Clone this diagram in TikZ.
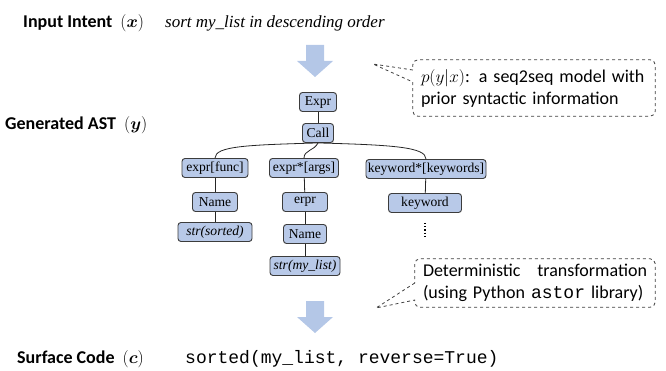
\documentclass[tikz,border=0pt]{standalone}
\usepackage{amsmath}
\usepackage{amssymb}
\usepackage{fontspec}
\setmainfont{Liberation Serif}
\setsansfont{Carlito}
\setmonofont{Liberation Mono}
\usepackage{xcolor}
\usepackage{tikz}

\definecolor{astfill}{RGB}{184,201,232}
\definecolor{astline}{RGB}{60,60,60}
\definecolor{flowblue}{RGB}{180,199,231}

\tikzset{
  astnode/.style={draw=astline, fill=astfill, rounded corners=3pt, line width=0.9pt,
    minimum height=19pt, inner sep=0pt, font=\fontsize{13.6}{13.6}\selectfont},
  astlink/.style={draw=black!85, line width=0.8pt},
  stage/.style={anchor=base west, inner sep=0pt, font=\sffamily\bfseries\fontsize{18}{18}\selectfont},
  note/.style={inner xsep=8pt, inner ysep=0pt, align=left, font=\sffamily\fontsize{18}{22}\selectfont},
  bubble/.style={draw=black!75, dashed, line width=0.8pt},
  flowarrow/.style={fill=flowblue}
}

\begin{document}
\begin{tikzpicture}[x=1pt, y=-1pt]
        \useasboundingbox (0,0) rectangle (666,371);

        % Input
        \node[stage] (intent) at (23,28) {Input Intent\hspace{0.45em}$(\boldsymbol{x})$};
        \node[anchor=base west, inner sep=0pt, font=\itshape\fontsize{17}{17}\selectfont] (query) at (165,28) {sort my\_list in descending order};

        % Model step
        \fill[flowarrow, shift={(315,45)}] (-9,0) -- (9,0) -- (9,16) -- (18,16) -- (0,32) -- (-18,16) -- (-9,16) -- cycle;
        \node[note, text width=226pt, minimum height=56pt] (model) at (534,88) {$p(y|x)$: a seq2seq model with\\prior syntactic information};
        \coordinate (modeltip) at (373,64);
        \draw[bubble] (model.west |- 0,70) -- (modeltip) -- (model.west |- 0,82) [rounded corners=5pt] |- (model.south east) |- (model.north west) -- (model.west |- 0,70);

        % AST
        \node[stage] (astlabel) at (5,130) {Generated AST\hspace{0.45em}$(\boldsymbol{y})$};
        \node[astnode, minimum width=37pt] (expr) at (318,102) {Expr};
        \node[astnode, minimum width=31pt] (call) at (318,133) {Call};
        \node[astnode, minimum width=66pt] (func) at (215,168) {expr[func]};
        \node[astnode, minimum width=69pt] (args) at (304,168) {expr*[args]};
        \node[astnode, minimum width=120pt] (keywords) at (426,169) {keyword*[keywords]};
        \node[astnode, minimum width=45pt] (funcname) at (215,202) {Name};
        \node[astnode, minimum width=74pt] (funcstr) at (215,232) {\textit{str(sorted)}};
        \node[astnode, minimum width=45pt] (erpr) at (305,202) {erpr};
        \node[astnode, minimum width=43pt] (argname) at (305,234) {Name};
        \node[astnode, minimum width=70pt] (argstr) at (305,266) {\textit{str(my\_list)}};
        \node[astnode, minimum width=73pt] (keyword) at (425,203) {keyword};
        \node[inner sep=0pt, minimum height=14pt, minimum width=2pt] (more) at (425,230) {};

        \draw[astlink] (expr) -- (call);
        \draw[astlink] (call.south) .. controls +(-70,2) and +(0,-12) .. (func.north);
        \draw[astlink] (call.south) .. controls +(-4,8) and +(0,-8) .. (args.north);
        \draw[astlink] (call.south) .. controls +(75,2) and +(0,-12) .. (keywords.north);
        \draw[astlink] (func) -- (funcname);
        \draw[astlink] (funcname) -- (funcstr);
        \draw[astlink] (args) -- (erpr);
        \draw[astlink] (erpr) -- (argname);
        \draw[astlink] (argname) -- (argstr);
        \draw[astlink] (keywords) -- (keyword);
        \draw[line width=1.3pt, dash pattern=on 1.3pt off 2pt] (more.north) -- (more.south);

        % Code generation
        \fill[flowarrow, shift={(315,301)}] (-9,0) -- (9,0) -- (9,16) -- (18,16) -- (0,32) -- (-18,16) -- (-9,16) -- cycle;
        \node[note, text width=224pt, minimum height=48pt] (transform) at (535,283) {\makebox[224pt][s]{Deterministic\hfill transformation}\\(using Python \texttt{astor} library)};
        \coordinate (transformtip) at (376,308);
        \draw[bubble] (transform.west |- 0,283) -- (transformtip) -- (transform.west |- 0,300) [rounded corners=5pt] |- (transform.south east) |- (transform.north west) -- (transform.west |- 0,283);

        % Output
        \node[stage] (codelabel) at (17,363) {Surface Code\hspace{0.45em}$(\boldsymbol{c})$};
        \node[anchor=base west, inner sep=0pt, font=\ttfamily\fontsize{18}{18}\selectfont] (code) at (185,363) {sorted(my\_list, reverse=True)};
    \end{tikzpicture}
\end{document}
